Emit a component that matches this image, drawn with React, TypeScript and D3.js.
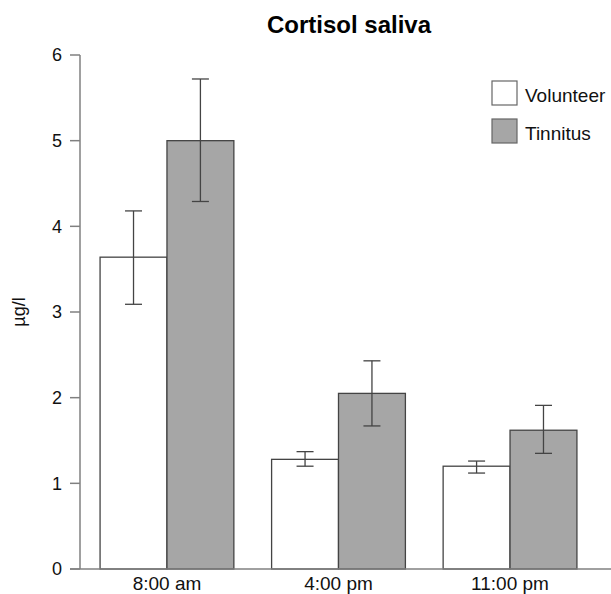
import React from 'react';
import * as d3 from 'd3';

const categories = ['8:00 am', '4:00 pm', '11:00 pm'];
const seriesNames = ['Volunteer', 'Tinnitus'];
const volunteerMean = [3.64, 1.28, 1.2];
const volunteerLow = [3.09, 1.2, 1.12];
const volunteerHigh = [4.18, 1.37, 1.26];
const tinnitusMean = [5.0, 2.05, 1.62];
const tinnitusLow = [4.29, 1.67, 1.35];
const tinnitusHigh = [5.72, 2.43, 1.91];
const yTicks = [0, 1, 2, 3, 4, 5, 6];

const fills = ['#ffffff', '#a6a6a6'];
const font = 'Liberation Sans, Arial, sans-serif';

export default function App() {
  const width = 611;
  const height = 594;
  const left = 80;
  const bottom = 569;
  const top = 55;

  const yScale = d3.scaleLinear().domain([0, 6]).range([bottom, top]);
  const xScale = d3.scaleBand()
    .domain(categories)
    .range([left, 597])
    .paddingInner(0.22)
    .paddingOuter(0.117);
  const xSub = d3.scaleBand()
    .domain(seriesNames)
    .range([0, xScale.bandwidth()]);

  const rows = categories.map((c, i) => ({
    cat: c,
    vals: [
      { s: 'Volunteer', m: volunteerMean[i], lo: volunteerLow[i], hi: volunteerHigh[i] },
      { s: 'Tinnitus', m: tinnitusMean[i], lo: tinnitusLow[i], hi: tinnitusHigh[i] },
    ],
  }));

  return (
    <svg width={width} height={height} style={{ position: 'absolute', left: 0, top: 0, background: '#fff' }}>
      <text x={349} y={33} textAnchor="middle" fontFamily={font} fontWeight="bold" fontSize={24} fill="#000">
        Cortisol saliva
      </text>
      {/* y axis */}
      <line x1={left} x2={left} y1={top} y2={bottom} stroke="#808080" strokeWidth={1.5} />
      {yTicks.map((t) => (
        <g key={t} transform={`translate(0,${yScale(t)})`}>
          <line x1={left - 10} x2={left} stroke="#808080" strokeWidth={1.5} />
          <text x={left - 18} dy="0.36em" textAnchor="end" fontFamily={font} fontSize={18} fill="#111">{t}</text>
        </g>
      ))}
      <text
        transform={`translate(25,${(top + bottom) / 2}) rotate(-90)`}
        textAnchor="middle"
        fontFamily={font}
        fontSize={18}
        fill="#111"
      >
        µg/l
      </text>
      {/* bars */}
      {rows.map((r) => (
        <g key={r.cat} transform={`translate(${xScale(r.cat)},0)`}>
          {r.vals.map((v, j) => {
            const x = xSub(v.s) as number;
            const w = xSub.bandwidth();
            const cx = x + w / 2;
            return (
              <g key={v.s}>
                <rect
                  x={x}
                  y={yScale(v.m)}
                  width={w}
                  height={bottom - yScale(v.m)}
                  fill={fills[j]}
                  stroke="#444"
                  strokeWidth={1.3}
                />
                <line x1={cx} x2={cx} y1={yScale(v.lo)} y2={yScale(v.hi)} stroke="#444" strokeWidth={1.3} />
                <line x1={cx - 8.5} x2={cx + 8.5} y1={yScale(v.lo)} y2={yScale(v.lo)} stroke="#444" strokeWidth={1.3} />
                <line x1={cx - 8.5} x2={cx + 8.5} y1={yScale(v.hi)} y2={yScale(v.hi)} stroke="#444" strokeWidth={1.3} />
              </g>
            );
          })}
          <text
            x={xScale.bandwidth() / 2}
            y={590}
            textAnchor="middle"
            fontFamily={font}
            fontSize={19}
            fill="#111"
          >
            {r.cat}
          </text>
        </g>
      ))}
      {/* x axis */}
      <line x1={left - 10} x2={width} y1={bottom} y2={bottom} stroke="#808080" strokeWidth={1.5} />
      {/* legend */}
      {seriesNames.map((s, i) => (
        <g key={s} transform={`translate(492,${81 + i * 38})`}>
          <rect x={0} y={0} width={25} height={24} fill={fills[i]} stroke="#666" strokeWidth={1.2} />
          <text x={33} y={20.5} fontFamily={font} fontSize={19} fill="#111">{s}</text>
        </g>
      ))}
    </svg>
  );
}
